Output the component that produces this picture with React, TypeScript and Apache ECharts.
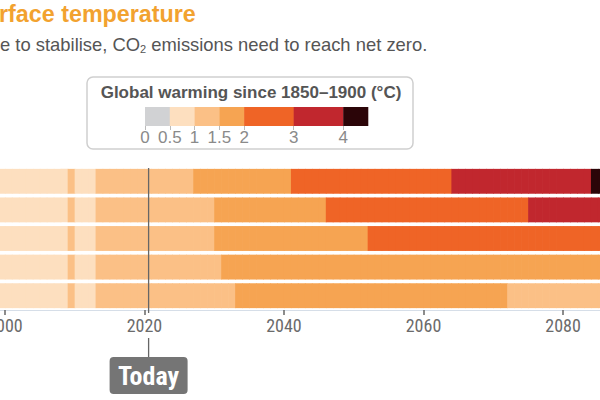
import React, { useEffect, useRef } from "react";
import * as echarts from "echarts";

// ---- data ----
const SCENARIOS = ["SSP5-8.5", "SSP3-7.0", "SSP2-4.5", "SSP1-2.6", "SSP1-1.9"];
// warming class per year: 0:<0.5 1:0.5-1 2:1-1.5 3:1.5-2 4:2-3 5:3-4 6:>4
// segments [firstYear, lastYear, class]
const HISTORY: [number, number, number][] = [
  [1999, 2008, 1],
  [2009, 2009, 2],
  [2010, 2012, 1],
  [2013, 2020, 2],
];
const FUTURE: [number, number, number][][] = [
  [[2021, 2026, 2], [2027, 2040, 3], [2041, 2063, 4], [2064, 2083, 5], [2084, 2085, 6]],
  [[2021, 2029, 2], [2030, 2045, 3], [2046, 2074, 4], [2075, 2085, 5]],
  [[2021, 2029, 2], [2030, 2051, 3], [2052, 2085, 4]],
  [[2021, 2030, 2], [2031, 2085, 3]],
  [[2021, 2032, 2], [2033, 2071, 3], [2072, 2085, 2]],
];
const YEAR_TICKS = [2000, 2020, 2040, 2060, 2080];
const TODAY = 2020.6;

const LEGEND_BOUNDS = [0, 0.5, 1, 1.5, 2, 3, 4, 4.5];
const LEGEND_TICKS = [0, 0.5, 1, 1.5, 2, 3, 4];
const CLASS_COLORS = ["#d1d2d4", "#fddfbf", "#fbc086", "#f6a452", "#ef6426", "#c1272e", "#2b0508"];

const NARROW = "'Liberation Sans Narrow', 'Arial Narrow', 'Roboto Condensed', sans-serif";
const SANS = "'Liberation Sans', Arial, Helvetica, sans-serif";

export default function App() {
  const ref = useRef<HTMLDivElement>(null);
  useEffect(() => {
    if (!ref.current) return;
    const chart = echarts.init(ref.current, undefined, { renderer: "svg" });

    const cells: number[][] = [];
    SCENARIOS.forEach((_, r) => {
      [...HISTORY, ...FUTURE[r]].forEach(([a, b, c]) => {
        for (let y = a; y <= b; y++) cells.push([y, r, c]);
      });
    });
    const legendData = LEGEND_BOUNDS.slice(0, -1).map((v, i) => [v, LEGEND_BOUNDS[i + 1], i]);

    chart.setOption({
      animation: false,
      grid: [
        { left: 0, right: 0, top: 167, height: 143, outerBoundsMode: "none", containLabel: false },
        { left: 145, width: 223, top: 107, height: 19, outerBoundsMode: "none", containLabel: false },
      ],
      xAxis: [
        {
          type: "value",
          gridIndex: 0,
          min: 1999.3,
          max: 2085.3,
          splitLine: { show: false },
          axisLine: { show: true, lineStyle: { color: "#d6dee8", width: 1 } },
          axisTick: { show: true, customValues: YEAR_TICKS, length: 5, lineStyle: { color: "#666", width: 1.5 } },
          axisLabel: {
            customValues: YEAR_TICKS,
            color: "#6b6b6b",
            fontSize: 18,
            fontFamily: NARROW,
            margin: 6,
            hideOverlap: false,
            formatter: (v: number) => String(v),
          },
        },
        {
          type: "value",
          gridIndex: 1,
          min: 0,
          max: 4.5,
          splitLine: { show: false },
          axisLine: { show: false },
          axisTick: { show: true, customValues: LEGEND_TICKS, length: 4, lineStyle: { color: "#bbb", width: 1 } },
          axisLabel: {
            customValues: LEGEND_TICKS,
            color: "#8a8a8a",
            fontSize: 17,
            fontFamily: SANS,
            margin: 3,
            formatter: (v: number) => String(v),
          },
        },
      ],
      yAxis: [
        { type: "category", gridIndex: 0, data: SCENARIOS, inverse: true, show: false },
        { type: "category", gridIndex: 1, data: ["scale"], show: false },
      ],
      series: [
        {
          type: "custom",
          xAxisIndex: 0,
          yAxisIndex: 0,
          data: cells,
          encode: { x: 0, y: 1 },
          renderItem: (params: any, api: any) => {
            const yr = api.value(0);
            const row = api.value(1);
            const cls = api.value(2);
            const p0 = api.coord([yr, row]);
            const p1 = api.coord([yr + 1, row]);
            const band = api.size([0, 1])[1];
            const h = band * 0.87;
            return {
              type: "rect",
              shape: { x: p0[0], y: p0[1] - h / 2, width: p1[0] - p0[0] + 0.7, height: h },
              style: { fill: CLASS_COLORS[cls] },
            };
          },
        },
        {
          type: "custom",
          xAxisIndex: 1,
          yAxisIndex: 1,
          data: legendData,
          encode: { x: [0, 1], y: -1 },
          renderItem: (params: any, api: any) => {
            const a = api.coord([api.value(0), 0]);
            const b = api.coord([api.value(1), 0]);
            const band = api.size([0, 1])[1];
            return {
              type: "rect",
              shape: { x: a[0], y: a[1] - band / 2, width: b[0] - a[0] + 0.3, height: band },
              style: { fill: CLASS_COLORS[api.value(2)] },
            };
          },
        },
      ],
    });

    const tx = chart.convertToPixel({ xAxisIndex: 0 }, TODAY) as number;
    chart.setOption({
      graphic: [
        {
          type: "text",
          left: -1,
          top: 2,
          style: { text: "rface temperature", fill: "#f2a22f", font: `bold 23.3px ${SANS}` },
        },
        {
          type: "text",
          left: 0,
          top: 35,
          style: {
            text: "e to stabilise, CO{sub|2} emissions need to reach net zero.",
            fill: "#555",
            font: `18.4px ${SANS}`,
            rich: { sub: { fontSize: 11, fill: "#555", fontFamily: SANS, padding: [9, 0, 0, 0] } },
          },
        },
        {
          type: "rect",
          shape: { x: 87, y: 77, width: 326, height: 72, r: 6 },
          style: { fill: "#fff", stroke: "#cfcfcf", lineWidth: 1.5 },
          z: -1,
        },
        {
          type: "text",
          x: 251,
          y: 92,
          style: {
            text: "Global warming since 1850–1900 (°C)",
            fill: "#555",
            font: `bold 17px ${SANS}`,
            align: "center",
            verticalAlign: "middle",
          },
        },
        {
          type: "line",
          shape: { x1: tx, y1: 168, x2: tx, y2: 313 },
          style: { stroke: "#666", lineWidth: 1.3 },
          z: 10,
        },
        {
          type: "line",
          shape: { x1: tx, y1: 338, x2: tx, y2: 357 },
          style: { stroke: "#666", lineWidth: 1.3 },
          z: 10,
        },
        {
          type: "rect",
          shape: { x: tx - 39, y: 357, width: 78, height: 37, r: 4 },
          style: { fill: "#757575" },
          z: 10,
        },
        {
          type: "text",
          x: tx,
          y: 376,
          style: {
            text: "Today",
            fill: "#fff",
            font: `bold 26px ${NARROW}`,
            align: "center",
            verticalAlign: "middle",
          },
          z: 11,
        },
      ],
    });

    return () => chart.dispose();
  }, []);
  return (
    <div
      ref={ref}
      style={{ position: "absolute", left: 0, top: 0, width: 600, height: 400, background: "#fff" }}
    />
  );
}
